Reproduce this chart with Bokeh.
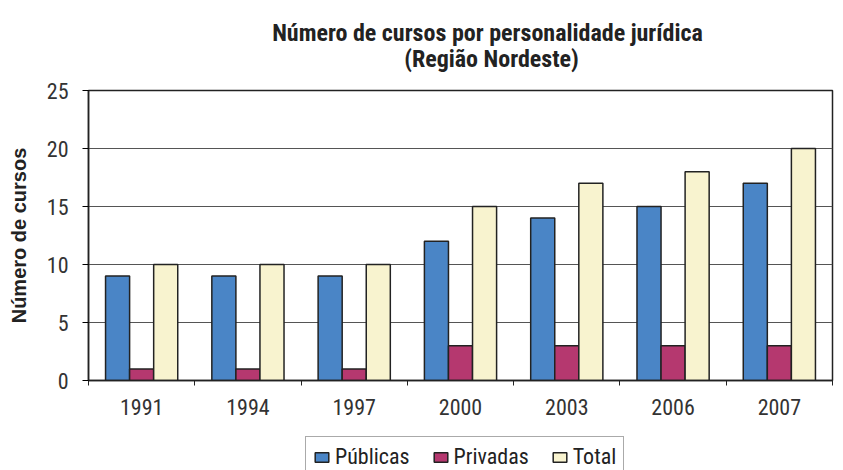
from bokeh.plotting import figure
from bokeh.models import FixedTicker, Legend, LegendItem, Label, Range1d
from bokeh.layouts import column
from bokeh.embed import file_html
from bokeh.resources import INLINE

years = ["1991", "1994", "1997", "2000", "2003", "2006", "2007"]
publicas = [9, 9, 9, 12, 14, 15, 17]
privadas = [1, 1, 1, 3, 3, 3, 3]
total = [10, 10, 10, 15, 17, 18, 20]
series_names = ["Públicas", "Privadas", "Total"]
colors = ["#4a85c6", "#b5386f", "#f8f3cf"]
title_lines = ["Número de cursos por personalidade jurídica", "(Região Nordeste)"]

FONT = "'Roboto Condensed', 'DejaVu Sans Condensed', Roboto"
DARK = "#222222"

# ---- title strip -------------------------------------------------------
t = figure(width=843, height=78, output_backend="svg", toolbar_location=None,
           x_axis_type=None, y_axis_type=None,
           x_range=Range1d(0, 744), y_range=Range1d(0, 78), min_border=0)
t.outline_line_color = None
t.xgrid.grid_line_color = None
t.ygrid.grid_line_color = None
for txt, xc, yb in zip(title_lines, [399, 403], [46, 20]):
    t.add_layout(Label(x=xc, y=yb, text=txt, text_align="center", text_baseline="alphabetic",
                       text_font=FONT, text_font_size="24px", text_font_style="bold",
                       text_color=DARK))

# ---- main chart --------------------------------------------------------
p = figure(width=843, height=352, output_backend="svg", toolbar_location=None,
           x_range=Range1d(0, 7), y_range=Range1d(0, 25),
           min_border_left=88, min_border_right=11, min_border_top=12, min_border_bottom=50)

centers = [i + 0.5 for i in range(len(years))]
bw = 0.2264
series = [publicas, privadas, total]
for k, (vals, col) in enumerate(zip(series, colors)):
    xs = [c + (k - 1) * bw for c in centers]
    p.vbar(x=xs, top=vals, bottom=0, width=bw, fill_color=col,
           line_color=DARK, line_width=1.5)

p.outline_line_color = DARK
p.outline_line_width = 1.5
p.xgrid.grid_line_color = None
p.ygrid.grid_line_color = "#555555"
p.ygrid.grid_line_width = 1.2
p.ygrid.ticker = FixedTicker(ticks=[5, 10, 15, 20])

p.yaxis.ticker = FixedTicker(ticks=[0, 5, 10, 15, 20, 25])
p.yaxis.major_tick_out = 6
p.yaxis.major_tick_in = 0
p.yaxis.minor_tick_line_color = None
p.yaxis.axis_line_color = DARK
p.yaxis.axis_line_width = 1.5
p.yaxis.major_label_text_font = FONT
p.yaxis.major_label_text_font_size = "22px"
p.yaxis.major_label_text_color = "#333333"
p.yaxis.major_label_standoff = 14
p.yaxis.axis_label = "Número de cursos"
p.yaxis.axis_label_text_font = "Liberation Sans"
p.yaxis.axis_label_text_font_size = "20px"
p.yaxis.axis_label_text_font_style = "bold"
p.yaxis.axis_label_text_color = DARK
p.yaxis.axis_label_standoff = 14

p.xaxis.ticker = FixedTicker(ticks=centers, minor_ticks=list(range(len(years) + 1)))
p.xaxis.major_label_overrides = {c: y for c, y in zip(centers, years)}
p.xaxis.major_tick_line_color = None
p.xaxis.major_tick_out = 6
p.xaxis.minor_tick_out = 5
p.xaxis.minor_tick_in = 0
p.xaxis.minor_tick_line_color = DARK
p.xaxis.axis_line_color = DARK
p.xaxis.axis_line_width = 1.5
p.xaxis.major_label_text_font = FONT
p.xaxis.major_label_text_font_size = "22px"
p.xaxis.major_label_text_color = "#333333"
p.xaxis.major_label_standoff = 12

# ---- legend strip (its tiny bars sit hidden behind the opaque legend box) ----
q = figure(width=843, height=40, output_backend="svg", toolbar_location=None,
           x_axis_type=None, y_axis_type=None,
           x_range=Range1d(-30, 40), y_range=Range1d(-10, 200),
           min_border=0)
q.outline_line_color = None
q.xgrid.grid_line_color = None
q.ygrid.grid_line_color = None
leg_renderers = []
for k, (vals, col) in enumerate(zip(series, colors)):
    xs = [c + (k - 1) * bw for c in centers]
    leg_renderers.append(q.vbar(x=xs, top=vals, bottom=0, width=bw, fill_color=col,
                                line_color=DARK, line_width=1.5))

legend = Legend(items=[LegendItem(label=n, renderers=[r]) for n, r in zip(series_names, leg_renderers)],
                orientation="horizontal", location=(217, -7),
                border_line_color="#555555", border_line_width=1.5,
                label_text_font=FONT, label_text_font_size="22px", label_text_color=DARK,
                glyph_width=17, glyph_height=12, spacing=22, padding=7, margin=0,
                label_standoff=5, background_fill_color="#ffffff", background_fill_alpha=1)
q.add_layout(legend, "center")

open("out.html", "w").write(file_html(column(t, p, q, spacing=0), INLINE))
